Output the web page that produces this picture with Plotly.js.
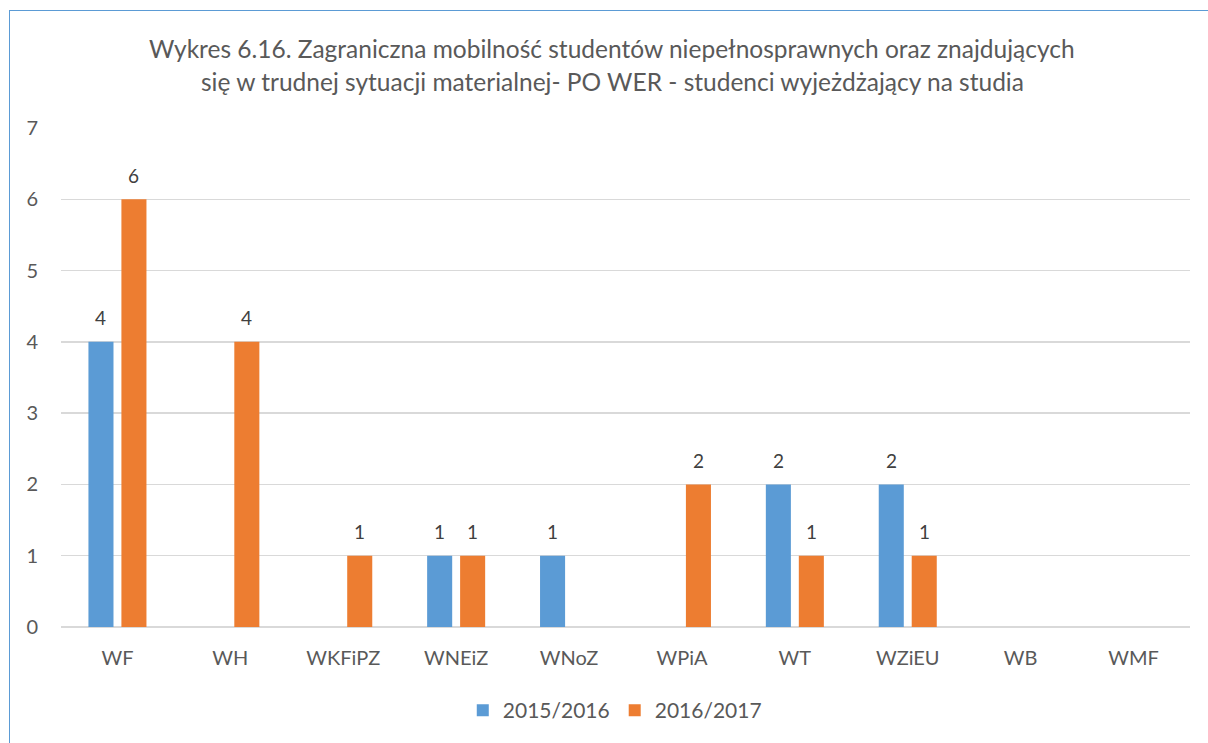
<!DOCTYPE html>
<html>
<head>
<meta charset="utf-8">
<script src="https://cdn.plot.ly/plotly-3.0.1.min.js"></script>
<style>
html,body{margin:0;padding:0;background:#fff;overflow:hidden;}
#frame{position:absolute;left:9px;top:10px;width:1220px;height:760px;border:1px solid #5B9BD5;box-sizing:border-box;}
#chart{position:absolute;left:0;top:0;width:1208px;height:743px;}
</style>
</head>
<body>
<div id="frame"></div>
<div id="chart"></div>
<script>
const categories = ["WF","WH","WKFiPZ","WNEiZ","WNoZ","WPiA","WT","WZiEU","WB","WMF"];
const series2015 = [4, null, null, 1, 1, null, 2, 2, null, null];
const series2016 = [6, 4, 1, 1, null, 2, 1, 1, null, null];
const seriesNames = ["2015/2016","2016/2017"];
const titleLines = ["Wykres 6.16. Zagraniczna mobilność studentów niepełnosprawnych oraz znajdujących","się w trudnej sytuacji materialnej- PO WER - studenci wyjeżdżający na studia"];

const fontFam = "Lato, Open Sans, sans-serif";
const W = 1208, H = 743, mL = 61, mR = 18, mT = 128, mB = 116;
const plotW = W - mL - mR, plotH = H - mT - mB;
const bargap = 0.416, bargroupgap = 0.24;
const catW = plotW / categories.length;
const slot = catW * (1 - bargap) / 2;

const traces = [
  {type:"bar", name:seriesNames[0], x:categories, y:series2015, marker:{color:"#5B9BD5"}, hoverinfo:"none"},
  {type:"bar", name:seriesNames[1], x:categories, y:series2016, marker:{color:"#ED7D31"}, hoverinfo:"none"}
];

const titleX = (612 - mL) / plotW;
const annotations = [
  {text:titleLines[0], xref:"paper", yref:"paper", x:titleX, y:(H-mB-48)/plotH, xanchor:"center", yanchor:"middle", showarrow:false, font:{size:24.5,color:"#595959",family:fontFam}},
  {text:titleLines[1], xref:"paper", yref:"paper", x:titleX, y:(H-mB-82)/plotH, xanchor:"center", yanchor:"middle", showarrow:false, font:{size:24.5,color:"#595959",family:fontFam}}
];
[series2015, series2016].forEach((ser, si) => {
  ser.forEach((v, i) => {
    if (v == null) return;
    annotations.push({text:String(v), x:categories[i], y:v, xref:"x", yref:"y",
      xshift:(si === 0 ? -1 : 1) * slot / 2, yshift:24, yanchor:"middle", xanchor:"center",
      showarrow:false, font:{size:19,color:"#404040",family:fontFam}});
  });
});

const layout = {
  width:W, height:H,
  paper_bgcolor:"rgba(0,0,0,0)", plot_bgcolor:"rgba(0,0,0,0)",
  margin:{l:mL,r:mR,t:mT,b:mB},
  font:{family:fontFam,color:"#595959",size:19},
  annotations:annotations,
  barmode:"group", bargap:bargap, bargroupgap:bargroupgap,
  xaxis:{type:"category", showgrid:false, zeroline:false, showline:false, ticks:"",
    tickfont:{size:20,color:"#595959"}, ticklabelstandoff:17, automargin:false},
  yaxis:{range:[0,7], dtick:1, showgrid:true, gridcolor:"#D9D9D9", gridwidth:1.5,
    zeroline:true, zerolinecolor:"#D9D9D9", zerolinewidth:1.5, showline:false, ticks:"",
    tickfont:{size:20,color:"#595959"}, ticklabelstandoff:22, fixedrange:true, automargin:false},
  showlegend:true,
  legend:{orientation:"h", x:0.4905, xanchor:"center", xref:"paper", y:(H-690)/H, yanchor:"top", yref:"container",
    font:{size:21,color:"#595959"}, itemwidth:30, traceorder:"normal"},
};
Plotly.newPlot("chart", traces, layout, {staticPlot:true, displayModeBar:false});
</script>
</body>
</html>
